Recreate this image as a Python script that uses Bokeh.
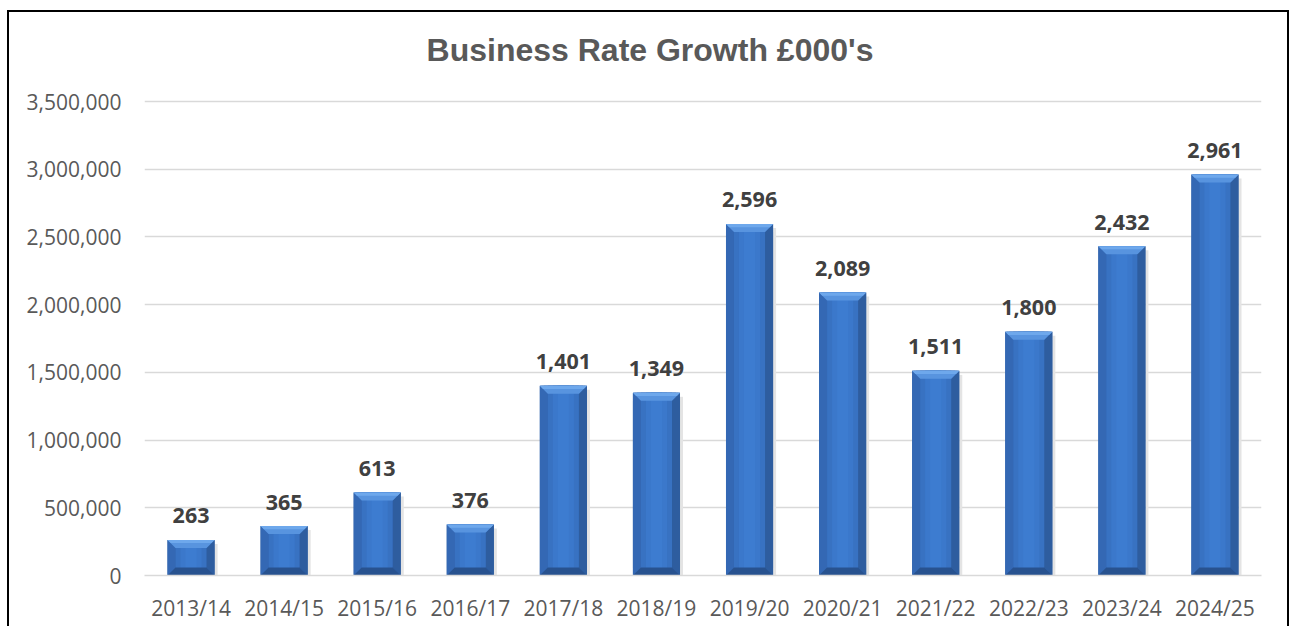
from bokeh.plotting import figure
from bokeh.models import ColumnDataSource, Range1d, FixedTicker, NumeralTickFormatter, Label
from bokeh.embed import file_html
from bokeh.resources import INLINE

categories = ["2013/14", "2014/15", "2015/16", "2016/17", "2017/18", "2018/19",
              "2019/20", "2020/21", "2021/22", "2022/23", "2023/24", "2024/25"]
values_k = [263, 365, 613, 376, 1401, 1349, 2596, 2089, 1511, 1800, 2432, 2961]
y_ticks = [0, 500000, 1000000, 1500000, 2000000, 2500000, 3000000, 3500000]
title_text = "Business Rate Growth £000's"

heights = [v * 1000 for v in values_k]
centers = [i + 0.5 for i in range(len(categories))]

# layout geometry (pixels)
W, H = 1282, 616
BOTTOM = 53
FRAME_H = H - BOTTOM          # frame spans from figure top to x-axis
GRID_TOP_PX = 474             # height in px of the 0..3.5M span
Y_MAX = y_ticks[-1]
Y_END = FRAME_H * Y_MAX / GRID_TOP_PX
TITLE_Y = 526 * Y_MAX / GRID_TOP_PX

p = figure(width=W, height=H, output_backend="svg", toolbar_location=None,
           x_range=Range1d(0, len(categories)), y_range=Range1d(0, Y_END),
           min_border_left=135, min_border_right=30, min_border_top=0, min_border_bottom=BOTTOM,
           styles={"border-left": "2px solid black", "border-top": "2px solid black",
                   "border-right": "2px solid black", "margin-left": "7px", "margin-top": "10px"})
p.outline_line_color = None
p.background_fill_color = "white"
p.border_fill_color = "white"

# pixel scale helpers (for bevel sizes)
px_x = len(categories) / (W - 135 - 30)
px_y = Y_END / FRAME_H
hw = 0.253
bx = 8 * px_x
by = 8 * px_y

# shadow
p.quad(left=[c + hw for c in centers], right=[c + hw + 3 * px_x for c in centers],
       bottom=[0] * len(centers), top=[h - 4 * px_y for h in heights],
       fill_color="#E4E4E4", line_color=None)

# body gradient layers
layers = [(0.0, "#2C5C9F"), (1.5, "#3163AB"), (4, "#356BB8"), (8, "#3872C2"), (13, "#3B78CB"), (18, "#3D7CD0")]
for inset, col in layers:
    ix = inset * px_x
    p.quad(left=[c - hw + ix for c in centers], right=[c + hw - ix for c in centers],
           bottom=[0] * len(centers), top=heights, fill_color=col, line_color=None)

# left bevel
p.patches(xs=[[c - hw, c - hw + bx, c - hw + bx, c - hw] for c in centers],
          ys=[[h, h - by, by, 0] for h in heights], fill_color="#3468B4", line_color=None)
# right bevel
p.patches(xs=[[c + hw, c + hw - bx, c + hw - bx, c + hw] for c in centers],
          ys=[[h, h - by, by, 0] for h in heights], fill_color="#2E5D9F", line_color=None)
# bottom bevel
p.patches(xs=[[c - hw, c - hw + bx, c + hw - bx, c + hw] for c in centers],
          ys=[[0, by, by, 0] for h in heights], fill_color="#28528F", line_color=None)
# top bevel
p.patches(xs=[[c - hw, c + hw, c + hw - bx, c - hw + bx] for c in centers],
          ys=[[h, h, h - by, h - by] for h in heights], fill_color="#5894DF", line_color=None)
p.patches(xs=[[c - hw, c + hw, c + hw - bx * 0.4, c - hw + bx * 0.4] for c in centers],
          ys=[[h, h, h - by * 0.4, h - by * 0.4] for h in heights], fill_color="#6EA8EC", line_color=None)

# value labels
src = ColumnDataSource(dict(x=centers, y=heights, t=[f"{v:,}" for v in values_k]))
p.text(x="x", y="y", text="t", source=src, text_align="center", text_baseline="middle",
       y_offset=-24, text_font_size="21.5px", text_font_style="bold", text_color="#404040",
       text_font={"value": "Open Sans"})

# axes
p.xaxis.ticker = FixedTicker(ticks=centers)
p.xaxis.major_label_overrides = {c: cat for c, cat in zip(centers, categories)}
p.yaxis.ticker = FixedTicker(ticks=y_ticks)
p.yaxis.formatter = NumeralTickFormatter(format="0,0")
for ax in (p.xaxis[0], p.yaxis[0]):
    ax.major_tick_line_color = None
    ax.minor_tick_line_color = None
    ax.major_label_text_font = "Open Sans"
    ax.major_label_text_font_size = "21px"
    ax.major_label_text_color = "#595959"
p.yaxis.axis_line_color = None
p.xaxis.axis_line_color = "#D9D9D9"
p.xaxis.axis_line_width = 1.5
p.xaxis.major_label_standoff = 12
p.yaxis.major_label_standoff = 17
p.xgrid.grid_line_color = None
p.ygrid.grid_line_color = "#D9D9D9"
p.ygrid.grid_line_width = 1.5

title = Label(x=len(categories) / 2, y=TITLE_Y, x_offset=-53,
              text=title_text, text_align="center", text_baseline="middle",
              text_font="Liberation Sans", text_font_size="32px", text_font_style="bold",
              text_color="#595959")
p.add_layout(title)

open("out.html", "w").write(file_html(p, INLINE))
